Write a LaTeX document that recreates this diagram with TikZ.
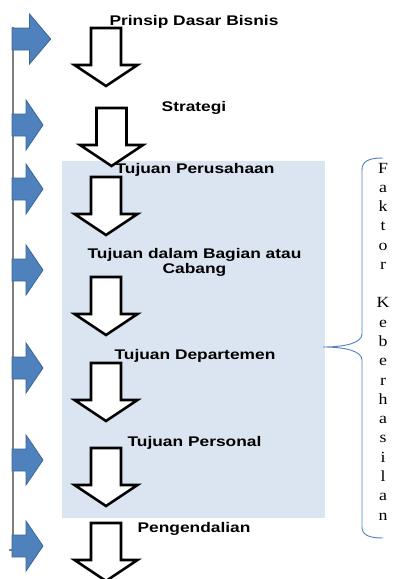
\documentclass[tikz,border=0pt]{standalone}
\usepackage{fontspec}
\newfontfamily\lblfont[FakeStretch=1.24]{Liberation Sans}
\newfontfamily\faktorfont[FakeStretch=1.15]{Liberation Serif}
\definecolor{PanelBlue}{HTML}{DBE5F1}
\definecolor{ArrowBlue}{HTML}{4F81BD}
\definecolor{ArrowEdge}{HTML}{3A6797}
\definecolor{LineGray}{HTML}{7F7F7F}
\tikzset{
    lbl/.style={font=\lblfont\bfseries\fontsize{14}{15}\selectfont, inner sep=0pt, anchor=base},
    faktor/.style={font=\faktorfont\fontsize{15.5}{18}\selectfont, inner sep=0pt, anchor=base},
    bluearrow/.pic={
        \draw[fill=ArrowBlue, draw=ArrowEdge, line width=0.8pt]
            (0,-11) -- (14,-11) -- (14,-25) -- (31,0) -- (14,25) -- (14,11) -- (0,11) -- cycle;
    },
    downarrow/.pic={
        \draw[fill=white, draw=black, line width=2.6pt, miter limit=10]
            (-15,0) -- (15,0) -- (15,37) -- (31.5,37) -- (0,58) -- (-31.5,37) -- (-15,37) -- cycle;
    }
}

\begin{document}
\begin{tikzpicture}[x=1pt, y=-1pt]
                \useasboundingbox (0,0) rectangle (403,579);
                % shaded panel
                \fill[PanelBlue] (62,161) rectangle (325,518);
                % left rail
                \draw[LineGray, line width=1.5pt] (13,27) -- (13,550) -- (9,550);
                \pic[xscale=1.25] at (12,39) {bluearrow};
                \foreach \y in {125,189,270,368,460,546} {
                    \pic at (12,\y) {bluearrow};
                }
                % down arrows
                \pic at (106,28) {downarrow};
                \pic at (111.5,108) {downarrow};
                \foreach \y in {177,277,363,448,523} {
                    \pic at (106,\y) {downarrow};
                }
                % brace
                \draw[ArrowBlue, line width=0.9pt]
                    (383,158) .. controls (369,158) and (362,161) .. (362,170) -- (362,334)
                    .. controls (362,343) and (345,347) .. (323,347)
                    .. controls (345,347) and (362,351) .. (362,360) -- (362,527)
                    .. controls (362,535) and (369,538) .. (383,538);
                \foreach \ch [count=\i from 0] in {F,a,k,t,o,r,{},K,e,b,e,r,h,a,s,i,l,a,n} {
                    \node[faktor] (f\i) at (383,{173+19.28*\i}) {\ch};
                }
                % labels
                \node[lbl] (prinsip) at (194,25) {Prinsip Dasar Bisnis};
                \node[lbl] (strategi) at (194,111) {Strategi};
                \node[lbl] (perusahaan) at (195,173) {Tujuan Perusahaan};
                \node[lbl, anchor=north, align=center] (bagian) at (194.5,248.5) {Tujuan dalam Bagian atau\\Cabang};
                \node[lbl] (departemen) at (195,359) {Tujuan Departemen};
                \node[lbl] (personal) at (194.5,446) {Tujuan Personal};
                \node[lbl] (pengendalian) at (194,532) {Pengendalian};
            \end{tikzpicture}
\end{document}
